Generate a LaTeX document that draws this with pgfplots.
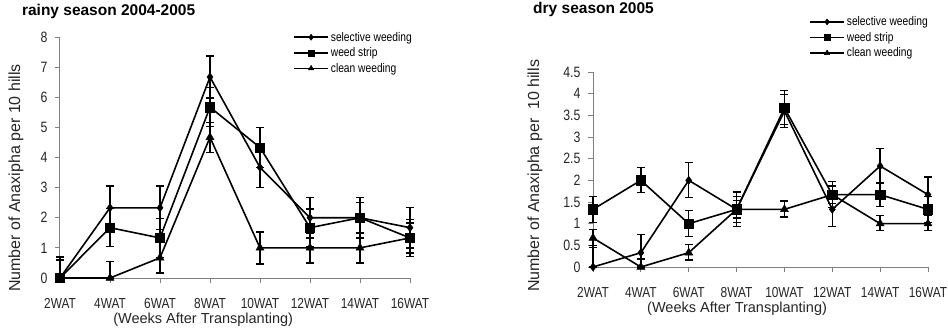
\documentclass[border=0pt]{standalone}
\usepackage{pgfplots}
\pgfplotsset{compat=1.18}
\usepackage{pgfplotstable}
\usepackage{fontspec}
\setmainfont{Liberation Sans}
\newfontfamily\narrowfont[FakeStretch=0.82]{Liberation Sans}

% rainy season
\pgfplotstableread{
x y ep em
0 0    0.70 0
1 2.33 0.72 0.72
2 2.33 0.72 0.72
3 6.67 0.70 0.70
4 3.67 0.67 0.67
5 2.00 0.67 0.67
6 2.00 0.50 0.50
7 1.67 0.67 0.67
}\rsel
\pgfplotstableread{
x y ep em
0 0    0.60 0
1 1.67 0.63 0.63
2 1.33 0.65 0.65
3 5.67 0.65 0.65
4 4.33 0.66 0.66
5 1.67 0.62 0.62
6 2.00 0.67 0.67
7 1.33 0.50 0.50
}\rstr
\pgfplotstableread{
x y ep em
0 0    0    0
1 0    0.55 0
2 0.67 0.50 0.50
3 4.67 0.50 0.50
4 1.00 0.53 0.53
5 1.00 0.50 0.50
6 1.00 0.50 0.50
7 1.33 0.62 0.62
}\rcln
% dry season
\pgfplotstableread{
x y ep em
0 0    0.50 0
1 0.33 0.42 0.15
2 2.00 0.41 0.40
3 1.33 0.40 0.40
4 3.60 0.38 0.38
5 1.33 0.40 0.40
6 2.33 0.40 0.39
7 1.67 0.41 0.41
}\dsel
\pgfplotstableread{
x y ep em
0 1.33 0.30 0.30
1 2.00 0.30 0.28
2 1.00 0.30 0.30
3 1.33 0.30 0.30
4 3.67 0.41 0.38
5 1.67 0.30 0.30
6 1.67 0.28 0.28
7 1.33 0.30 0.30
}\dstr
\pgfplotstableread{
x y ep em
0 0.67 0.20 0.22
1 0    0.18 0
2 0.33 0.19 0.17
3 1.33 0.20 0.20
4 1.33 0.19 0.18
5 1.67 0.20 0.20
6 1.00 0.19 0.16
7 1.00 0.19 0.16
}\dcln

\pgfplotsset{
 mystyle/.style={
  scale only axis,
  axis x line=bottom, axis y line=left,
  axis line style={-, draw=black!50, line width=1bp},
  tick align=outside,
  major tick length=5bp,
  tick style={draw=black!50, line width=0.8bp},
  xmin=0, xmax=7,
  xtick={0,...,7},
  xticklabels={2WAT,4WAT,6WAT,8WAT,10WAT,12WAT,14WAT,16WAT},
  clip=false,
  /pgf/number format/assume math mode=true,
  yticklabel style={font=\narrowfont\fontsize{15bp}{17bp}\selectfont, text=black!85, xshift=-4bp},
  xticklabel style={font=\narrowfont\fontsize{14.5bp}{16bp}\selectfont, text=black!85, yshift=-12bp},
  xlabel style={font=\fontsize{14.5bp}{16bp}\selectfont, text=black!85, anchor=center},
  ylabel style={font=\fontsize{16bp}{18bp}\selectfont, text=black!85, anchor=center},
  title style={font=\bfseries\fontsize{15.5bp}{17bp}\selectfont, anchor=west, inner sep=0pt},
  legend cell align=left,
  legend style={draw=none, fill=none, font=\narrowfont\fontsize{12.5bp}{15bp}\selectfont, inner sep=0pt, anchor=north west, row sep=1bp},
  legend image code/.code={\draw[mark repeat=2, mark phase=2, mark size=3bp] plot coordinates {(0bp,0bp)(17bp,0bp)(34bp,0bp)};},
 },
 ser/.style={black, line width=1.6bp, mark options={solid, fill=black, line width=0.5bp},
  error bars/y dir=both, error bars/y explicit,
  error bars/error bar style={line width=1.4bp, black},
  error bars/error mark options={rotate=90, mark size=4bp, line width=1.4bp, black}},
}

\begin{document}
\begin{tikzpicture}
\path[fill=white, use as bounding box] (0,0) rectangle (948bp,331bp);

\begin{axis}[mystyle,
  at={(60bp,53bp)}, anchor=south west,
  width=350bp, height=241bp,
  ymin=0, ymax=8, ytick={0,1,...,8},
  title={rainy season 2004-2005},
  title style={at={(axis description cs:-0.109,1.083)}},
  xlabel={(Weeks After Transplanting)},
  xlabel style={at={(axis description cs:0.409,-0.174)}},
  ylabel={Number of Anaxipha per 10 hills},
  ylabel style={at={(axis description cs:-0.126,0.415)}},
  legend style={at={(axis description cs:0.666,1.03)}},
]
\addplot[ser, mark=diamond*, mark size=4bp] table[x=x, y=y, y error plus=ep, y error minus=em] {\rsel};
\addplot[ser, mark=square*, mark size=4.7bp] table[x=x, y=y, y error plus=ep, y error minus=em] {\rstr};
\addplot[ser, mark=triangle*, mark size=4.6bp] table[x=x, y=y, y error plus=ep, y error minus=em] {\rcln};
\legend{selective weeding, weed strip, clean weeding}
\end{axis}

\begin{axis}[mystyle,
  at={(593bp,64bp)}, anchor=south west,
  width=335bp, height=195bp,
  ymin=0, ymax=4.5, ytick={0,0.5,...,4.5},
  title={dry season 2005},
  title style={at={(axis description cs:-0.179,1.292)}},
  xlabel={(Weeks After Transplanting)},
  xlabel style={at={(axis description cs:0.430,-0.215)}},
  ylabel={Number of Anaxipha per\ \ 10 hills},
  ylabel style={at={(axis description cs:-0.173,0.467)}},
  legend style={at={(axis description cs:0.645,1.295)}},
]
\addplot[ser, mark=diamond*, mark size=4bp] table[x=x, y=y, y error plus=ep, y error minus=em] {\dsel};
\addplot[ser, mark=square*, mark size=4.7bp] table[x=x, y=y, y error plus=ep, y error minus=em] {\dstr};
\addplot[ser, mark=triangle*, mark size=4.6bp] table[x=x, y=y, y error plus=ep, y error minus=em] {\dcln};
\legend{selective weeding, weed strip, clean weeding}
\end{axis}
\end{tikzpicture}
\end{document}
